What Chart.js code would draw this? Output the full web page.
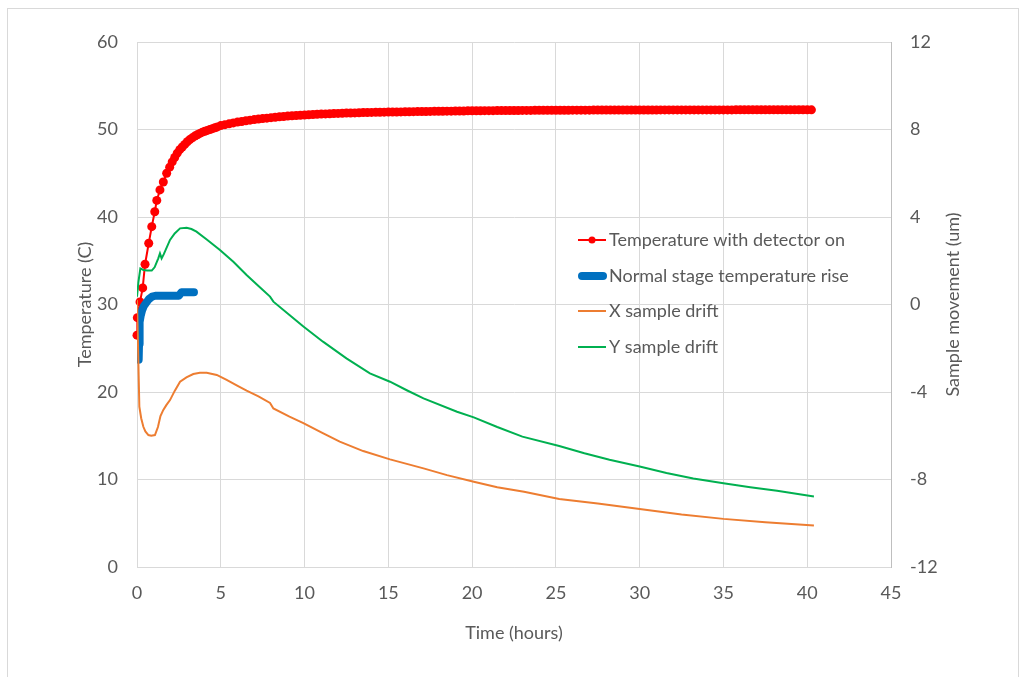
<!DOCTYPE html>
<html>
<head>
<meta charset="utf-8">
<script src="https://cdn.jsdelivr.net/npm/chart.js@4.4.1/dist/chart.umd.min.js"></script>
<style>
  html, body { margin: 0; padding: 0; background: #fff; }
  #wrap { width: 1025px; height: 677px; }
</style>
</head>
<body>
<div id="wrap"><canvas id="driftChart" width="1025" height="677"></canvas></div>
<script>
// ---- data ----
const redTime = [
  0, 0.02, 0.18, 0.34, 0.48, 0.7, 0.88, 1.06, 1.18, 1.37, 1.57, 1.77, 1.95, 2.1, 2.25, 2.4, 2.55,
  2.7, 2.85, 3.0, 3.15, 3.3, 3.45, 3.6, 3.75, 3.9, 4.05, 4.2, 4.35, 4.5, 4.65, 4.8, 5.0,
  5.25, 5.5, 5.75, 6, 6.25, 6.5, 6.75, 7, 7.25, 7.5,
  7.75, 8, 8.25, 8.5, 8.75, 9, 9.25, 9.5, 9.75, 10,
  10.25, 10.5, 10.75, 11, 11.25, 11.5, 11.75, 12, 12.25, 12.5,
  12.75, 13, 13.25, 13.5, 13.75, 14, 14.25, 14.5, 14.75, 15,
  15.25, 15.5, 15.75, 16, 16.25, 16.5, 16.75, 17,
  17.25, 17.5, 17.75, 18, 18.25, 18.5, 18.75, 19, 19.25, 19.5, 19.75, 20,
  20.25, 20.5, 20.75, 21, 21.25, 21.5, 21.75, 22, 22.25, 22.5, 22.75, 23, 23.25, 23.5, 23.75, 24, 24.25, 24.5, 24.75, 25,
  25.25, 25.5, 25.75, 26, 26.25, 26.5, 26.75, 27, 27.25, 27.5, 27.75, 28, 28.25, 28.5, 28.75, 29, 29.25, 29.5, 29.75, 30,
  30.25, 30.5, 30.75, 31, 31.25, 31.5, 31.75, 32, 32.25, 32.5, 32.75, 33, 33.25, 33.5, 33.75, 34, 34.25, 34.5, 34.75, 35,
  35.25, 35.5, 35.75, 36, 36.25, 36.5, 36.75, 37, 37.25, 37.5, 37.75, 38, 38.25, 38.5, 38.75, 39, 39.25, 39.5, 39.75, 40,
  40.25
];
const redTemp = [
  26.5, 28.5, 30.3, 31.9, 34.6, 37.0, 38.9, 40.6, 41.9, 43.1, 44.0, 45.0, 45.7, 46.3, 46.8, 47.3, 47.7,
  48.0, 48.3, 48.6, 48.85, 49.05, 49.25, 49.4, 49.55, 49.7, 49.8, 49.9, 50.0, 50.1, 50.2, 50.3, 50.45,
  50.55, 50.65, 50.75, 50.85, 50.92, 51.0, 51.07, 51.13, 51.19, 51.25,
  51.3, 51.35, 51.4, 51.45, 51.49, 51.53, 51.57, 51.6, 51.63, 51.66,
  51.69, 51.72, 51.74, 51.76, 51.78, 51.8, 51.82, 51.84, 51.86, 51.88,
  51.89, 51.9, 51.92, 51.93, 51.94, 51.95, 51.96, 51.97, 51.98, 51.99,
  52.0, 52.0, 52.01, 52.02, 52.03, 52.04, 52.05, 52.05,
  52.06, 52.07, 52.08, 52.08, 52.09, 52.1, 52.1, 52.11, 52.12, 52.12, 52.13, 52.13,
  52.14, 52.14, 52.15, 52.15, 52.15, 52.16, 52.16, 52.16, 52.17, 52.17, 52.17, 52.18, 52.18, 52.18, 52.19, 52.19, 52.19, 52.2, 52.2, 52.2,
  52.2, 52.2, 52.2, 52.21, 52.21, 52.21, 52.21, 52.21, 52.22, 52.22, 52.22, 52.22, 52.22, 52.22, 52.23, 52.23, 52.23, 52.23, 52.23, 52.23,
  52.23, 52.23, 52.23, 52.23, 52.24, 52.24, 52.24, 52.24, 52.24, 52.24, 52.24, 52.24, 52.24, 52.24, 52.24, 52.24, 52.24, 52.24, 52.24, 52.24,
  52.24, 52.24, 52.25, 52.25, 52.25, 52.25, 52.25, 52.25, 52.25, 52.25, 52.25, 52.25, 52.25, 52.25, 52.25, 52.25, 52.25, 52.25, 52.25, 52.25,
  52.25
];

const blueTime = [0.1, 0.12, 0.14, 0.17, 0.22, 0.3, 0.4, 0.55, 0.7, 0.9, 1.1, 2.5, 2.65, 3.4];
const blueTemp = [23.7, 25.5, 27.0, 28.0, 28.7, 29.3, 29.8, 30.2, 30.6, 30.9, 31.0, 31.0, 31.4, 31.4];

const xDriftTime = [0, 0.14, 0.25, 0.38, 0.5, 0.68, 0.85, 1.07, 1.25, 1.4, 1.57, 1.75, 1.97, 2.25, 2.57, 2.95,
  3.36, 3.75, 4.16, 4.76, 5.35, 5.95, 6.54, 7.25, 7.94, 8.14, 9.1, 9.93, 11.0, 12.1, 13.5, 15.1, 17.1,
  18.5, 20.1, 21.5, 23.1, 25.2, 27.5, 30, 32.5, 35, 37.5, 40.4];
const xDrift = [0.2, -4.67, -5.2, -5.59, -5.8, -5.97, -6.0, -5.97, -5.6, -5.1, -4.82, -4.6, -4.37, -3.95, -3.53, -3.33,
  -3.18, -3.12, -3.12, -3.22, -3.45, -3.7, -3.94, -4.2, -4.5, -4.75, -5.13, -5.42, -5.85, -6.27, -6.7, -7.08, -7.49,
  -7.8, -8.1, -8.35, -8.56, -8.89, -9.1, -9.35, -9.6, -9.8, -9.95, -10.1];

const yDriftTime = [0, 0.08, 0.2, 0.38, 0.6, 0.88, 1.05, 1.27, 1.37, 1.47, 1.6, 1.97, 2.25, 2.57, 2.96, 3.25,
  3.55, 4.2, 4.95, 5.75, 6.54, 7.25, 7.94, 8.14, 9.1, 9.93, 11.1, 12.5, 13.9, 15.1, 16.1, 17.1, 19.1, 20.1,
  21.5, 23.0, 25.2, 26.7, 28.2, 30, 31.6, 33.2, 35, 36.6, 38.2, 40.4];
const yDrift = [0.36, 1.0, 1.65, 1.58, 1.55, 1.55, 1.7, 2.11, 2.34, 2.11, 2.3, 2.95, 3.25, 3.48, 3.51, 3.45,
  3.33, 2.95, 2.49, 1.95, 1.35, 0.85, 0.36, 0.13, -0.48, -1.01, -1.7, -2.46, -3.15, -3.53, -3.92, -4.29, -4.9, -5.16,
  -5.6, -6.04, -6.47, -6.8, -7.1, -7.41, -7.7, -7.95, -8.17, -8.35, -8.51, -8.78];

const seriesNames = ['Temperature with detector on', 'Normal stage temperature rise', 'X sample drift', 'Y sample drift'];
const seriesColors = ['#ff0000', '#0070c0', '#ed7d31', '#00b050'];
const rightTitle = 'Sample movement (um)';

const FONT = 'Lato, "Open Sans", sans-serif';
const FSIZE = 18;
const TEXT = '#595959';
const GRID = '#d9d9d9';

function pairs(xs, ys) {
  return xs.map((x, i) => ({ x: x, y: ys[i] }));
}

// grey frame round the whole figure
const framePlugin = {
  id: 'frame',
  beforeDraw(chart) {
    const c = chart.ctx;
    c.save();
    c.fillStyle = '#fff';
    c.fillRect(0, 0, chart.width, chart.height);
    c.strokeStyle = '#d9d9d9';
    c.lineWidth = 1;
    c.strokeRect(7.5, 8.5, 1011, 700);
    c.restore();
  }
};

// legend sits inside the plot, like the Excel one; right title reads bottom-up
const insideLegend = {
  id: 'insideLegend',
  afterDraw(chart) {
    const c = chart.ctx;
    const rows = [240, 276, 311, 347];
    c.save();
    c.font = FSIZE + 'px ' + FONT;
    c.textBaseline = 'middle';
    c.textAlign = 'left';
    rows.forEach((y, i) => {
      c.strokeStyle = seriesColors[i];
      c.lineCap = i === 1 ? 'round' : 'butt';
      c.lineWidth = i === 1 ? 8 : 2;
      c.beginPath();
      if (i === 1) { c.moveTo(582, y); c.lineTo(603, y); }
      else { c.moveTo(578, y); c.lineTo(606, y); }
      c.stroke();
      if (i === 0) {
        c.fillStyle = seriesColors[0];
        c.beginPath();
        c.arc(592, y, 3.5, 0, Math.PI * 2);
        c.fill();
      }
      c.fillStyle = TEXT;
      c.fillText(seriesNames[i], 609, y);
    });

    const a = chart.chartArea;
    c.translate(953, (a.top + a.bottom) / 2);
    c.rotate(-Math.PI / 2);
    c.textAlign = 'center';
    c.fillText(rightTitle, 0, 0);
    c.restore();
  }
};

new Chart(document.getElementById('driftChart'), {
  type: 'line',
  data: {
    datasets: [
      {
        label: seriesNames[0],
        data: pairs(redTime, redTemp),
        yAxisID: 'y',
        borderColor: seriesColors[0],
        backgroundColor: seriesColors[0],
        borderWidth: 2,
        pointRadius: 4.5,
        pointBorderWidth: 0,
        pointBackgroundColor: seriesColors[0],
        clip: false,
        order: 3
      },
      {
        label: seriesNames[1],
        data: pairs(blueTime, blueTemp),
        yAxisID: 'y',
        borderColor: seriesColors[1],
        borderWidth: 8,
        borderCapStyle: 'round',
        borderJoinStyle: 'round',
        pointRadius: 0,
        order: 2
      },
      {
        label: seriesNames[2],
        data: pairs(xDriftTime, xDrift),
        yAxisID: 'y1',
        borderColor: seriesColors[2],
        borderWidth: 2,
        pointRadius: 0,
        order: 1
      },
      {
        label: seriesNames[3],
        data: pairs(yDriftTime, yDrift),
        yAxisID: 'y1',
        borderColor: seriesColors[3],
        borderWidth: 2,
        pointRadius: 0,
        order: 0
      }
    ]
  },
  options: {
    responsive: false,
    animation: false,
    layout: { padding: { top: 42, left: 0, right: 0, bottom: 0 } },
    plugins: {
      legend: { display: false },
      tooltip: { enabled: false }
    },
    scales: {
      x: {
        type: 'linear',
        min: 0,
        max: 45,
        afterFit: (s) => { s.height = 110; },
        grid: { color: GRID, drawTicks: false },
        border: { color: GRID },
        ticks: { stepSize: 5, padding: 15, color: TEXT, font: { family: FONT, size: FSIZE } },
        title: {
          display: true,
          text: 'Time (hours)',
          color: TEXT,
          font: { family: FONT, size: FSIZE },
          padding: { top: 0, bottom: 33 }
        }
      },
      y: {
        position: 'left',
        min: 0,
        max: 60,
        afterFit: (s) => { s.width = 137; },
        grid: { color: GRID, drawTicks: false },
        border: { color: GRID },
        ticks: { stepSize: 10, padding: 19, color: TEXT, font: { family: FONT, size: FSIZE } },
        title: {
          display: true,
          text: 'Temperature (C)',
          color: TEXT,
          font: { family: FONT, size: FSIZE },
          padding: { top: 74, bottom: 0 }
        }
      },
      y1: {
        position: 'right',
        min: -12,
        max: 12,
        afterFit: (s) => { s.width = 134; },
        grid: { display: false, drawTicks: false },
        border: { color: '#bfbfbf' },
        ticks: { stepSize: 4, padding: 19, color: TEXT, font: { family: FONT, size: FSIZE } }
      }
    }
  },
  plugins: [framePlugin, insideLegend]
});
</script>
</body>
</html>
